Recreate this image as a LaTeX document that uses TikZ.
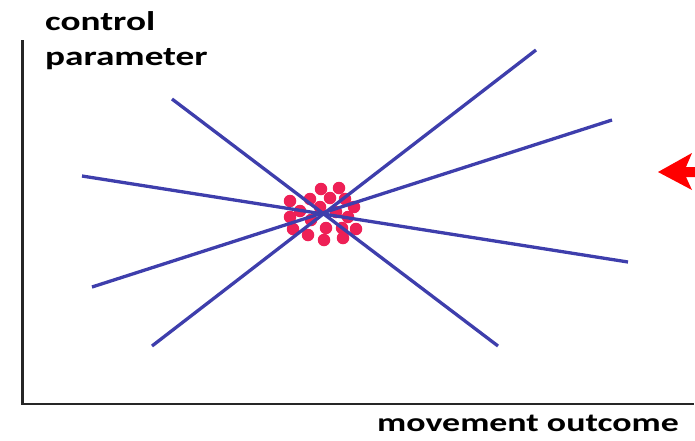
\documentclass[tikz,border=0pt]{standalone}
\usepackage{fontspec}
\setmainfont{Carlito}[FakeStretch=1.38]
\definecolor{lineblue}{RGB}{62,62,172}
\definecolor{dotred}{RGB}{238,32,86}
\definecolor{arrowred}{RGB}{255,0,0}
\tikzset{
  axis/.style={line width=2.4pt, draw=black!85},
  ray/.style={line width=3.3pt, draw=lineblue},
  dot/.style={circle, fill=dotred, inner sep=0pt, minimum size=12.5pt},
  lbl/.style={anchor=base west, inner sep=0pt, font=\fontsize{27}{33}\selectfont\bfseries}
}
\begin{document}
\begin{tikzpicture}[x=1pt,y=-1pt]
\useasboundingbox (0,0) rectangle (695,440);
% axes
\coordinate (ytop) at (22.5,40);
\coordinate (origin) at (22.5,404);
\coordinate (xend) at (694,404);
\draw[axis] (ytop) -- (origin) -- (xend);
% labels
\node[lbl] (lc) at (45,30) {control};
\node[lbl] (lp) at (45,65) {parameter};
\node[lbl, font=\fontsize{26}{32}\selectfont\bfseries] (lx) at (377,431) {movement outcome};
% dots
\foreach \i/\x/\y in {1/321/189,2/339/188,3/310/199,4/330/198,5/345/199,6/290/201,7/354/207,8/300/211,9/320/207,10/290/217,11/348/217,12/293/229,13/308/235,14/326/228,15/342/228,16/356/229,17/324/240,18/343/238,19/336/212,20/311/220}
  \node[dot] (d\i) at (\x,\y) {};
% rays
\coordinate (a1) at (172,99);  \coordinate (b1) at (498,346);
\coordinate (a2) at (152,346); \coordinate (b2) at (536,50);
\coordinate (a3) at (82,176);  \coordinate (b3) at (628,262);
\coordinate (a4) at (92,287);  \coordinate (b4) at (612,120);
\draw[ray] (a1) -- (b1);
\draw[ray] (a2) -- (b2);
\draw[ray] (a3) -- (b3);
\draw[ray] (a4) -- (b4);
% arrow at right edge
\coordinate (tip) at (658,172);
\fill[arrowred] (tip) -- (692,153) -- (686,167) -- (695,167) -- (695,177) -- (686,177) -- (692,190) -- cycle;
\end{tikzpicture}
\end{document}
